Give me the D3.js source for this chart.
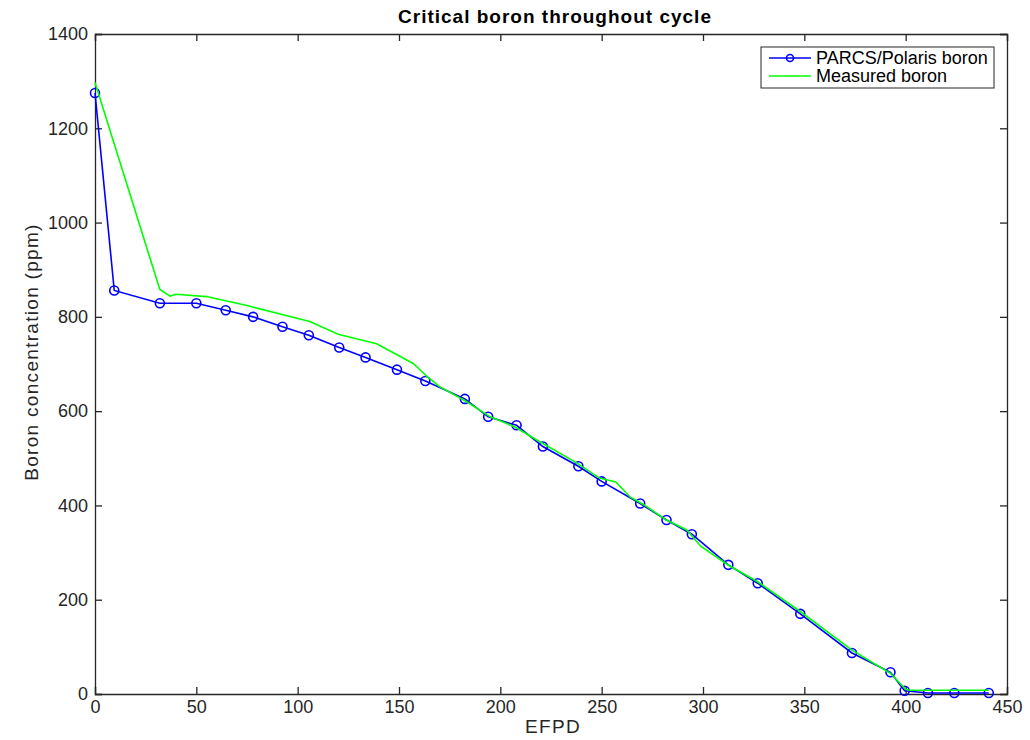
<!DOCTYPE html>
<html><head><meta charset="utf-8">
<script src="https://cdn.jsdelivr.net/npm/d3@7"></script>
<style>body{margin:0;background:#fff}svg{display:block}text{font-family:"Liberation Sans",Arial,sans-serif}</style>
</head><body><svg id="c" width="1030" height="740"></svg>
<script>
const parcsX=[0,9.5,32,50,64.5,78,92.5,105.5,120.5,133.5,149,163,182.5,194,208,221,238.5,250,269,282,294.5,312.5,327,348,373.5,392.5,399.5,411,424,441];
const parcsY=[1275,856,829,829,814,800,779,761,735,714,688,664,626,588,570,525,483,451,404,369,339,274,235,170,87,46,7,2,2,2];
const measX=[0,32,37,40,55,75,106,120,139,157,164,170,183,195,207,219.5,237,249,257,264,271,282,292,299,313,327,348,373.5,392.5,400,402,441];
const measY=[1297,858,844,848,843,824,790,763,743,701,673,652,621,588,567,535,492,458,450,418,401,369,348,313,272,238,175,93,44,10,8,8];
const xTicks=[0,50,100,150,200,250,300,350,400,450];
const yTicks=[0,200,400,600,800,1000,1200,1400];
const seriesNames=["PARCS/Polaris boron","Measured boron"];

const svg=d3.select("#c");
const L=95,R=1007,T=34,B=694;
const x=d3.scaleLinear().domain([0,450]).range([L,R]);
const y=d3.scaleLinear().domain([0,1400]).range([B,T]);
const axCol="#262626";
const tl=7;
const fmt=d3.format("d");
const xb=svg.append("g").attr("transform",`translate(0,${B})`).call(d3.axisBottom(x).tickValues(xTicks).tickSize(-tl).tickPadding(6).tickFormat(fmt));
const xt=svg.append("g").attr("transform",`translate(0,${T})`).call(d3.axisTop(x).tickValues(xTicks).tickSize(-tl).tickFormat(""));
const yl=svg.append("g").attr("transform",`translate(${L},0)`).call(d3.axisLeft(y).tickValues(yTicks).tickSize(-tl).tickPadding(7).tickFormat(fmt));
const yr=svg.append("g").attr("transform",`translate(${R},0)`).call(d3.axisRight(y).tickValues(yTicks).tickSize(-tl).tickFormat(""));
[xb,xt,yl,yr].forEach(g=>{g.selectAll("path").attr("stroke",axCol).attr("stroke-width",1.3);g.selectAll("line").attr("stroke",axCol).attr("stroke-width",1.3);g.selectAll("text").attr("fill",axCol).style("font-size","18px");});

const line=d3.line().x(d=>x(d[0])).y(d=>y(d[1]));
const pd=parcsX.map((v,i)=>[v,parcsY[i]]);
const md=measX.map((v,i)=>[v,measY[i]]);
svg.append("path").datum(pd).attr("d",line).attr("fill","none").attr("stroke","#0000ff").attr("stroke-width",1.6);
svg.append("g").selectAll("circle").data(pd).join("circle").attr("cx",d=>x(d[0])).attr("cy",d=>y(d[1])).attr("r",4.5).attr("fill","none").attr("stroke","#0000ff").attr("stroke-width",1.6);
svg.append("path").datum(md).attr("d",line).attr("fill","none").attr("stroke","#00ff00").attr("stroke-width",1.6);

svg.append("text").attr("x",555).attr("y",23).attr("text-anchor","middle").style("font-size","19px").style("font-weight","bold").style("letter-spacing","1px").attr("fill","#000").text("Critical boron throughout cycle");
svg.append("text").attr("x",553).attr("y",733).attr("text-anchor","middle").style("font-size","19px").style("letter-spacing","1.3px").attr("fill",axCol).text("EFPD");
svg.append("text").attr("transform",`translate(38,352) rotate(-90)`).attr("text-anchor","middle").style("font-size","19px").style("letter-spacing","1.3px").attr("fill",axCol).text("Boron concentration (ppm)");

const lg=svg.append("g");
lg.append("rect").attr("x",761).attr("y",47).attr("width",233).attr("height",41).attr("fill","#fff").attr("stroke",axCol).attr("stroke-width",1);
lg.append("line").attr("x1",769).attr("x2",811).attr("y1",58).attr("y2",58).attr("stroke","#0000ff").attr("stroke-width",1.6);
lg.append("circle").attr("cx",790).attr("cy",58).attr("r",3.5).attr("fill","none").attr("stroke","#0000ff").attr("stroke-width",1.6);
lg.append("line").attr("x1",769).attr("x2",811).attr("y1",76).attr("y2",76).attr("stroke","#00ff00").attr("stroke-width",1.6);
seriesNames.forEach((n,i)=>lg.append("text").attr("x",816).attr("y",58+i*18).attr("dy","0.35em").style("font-size","18px").attr("fill","#000").text(n));
</script></body></html>
